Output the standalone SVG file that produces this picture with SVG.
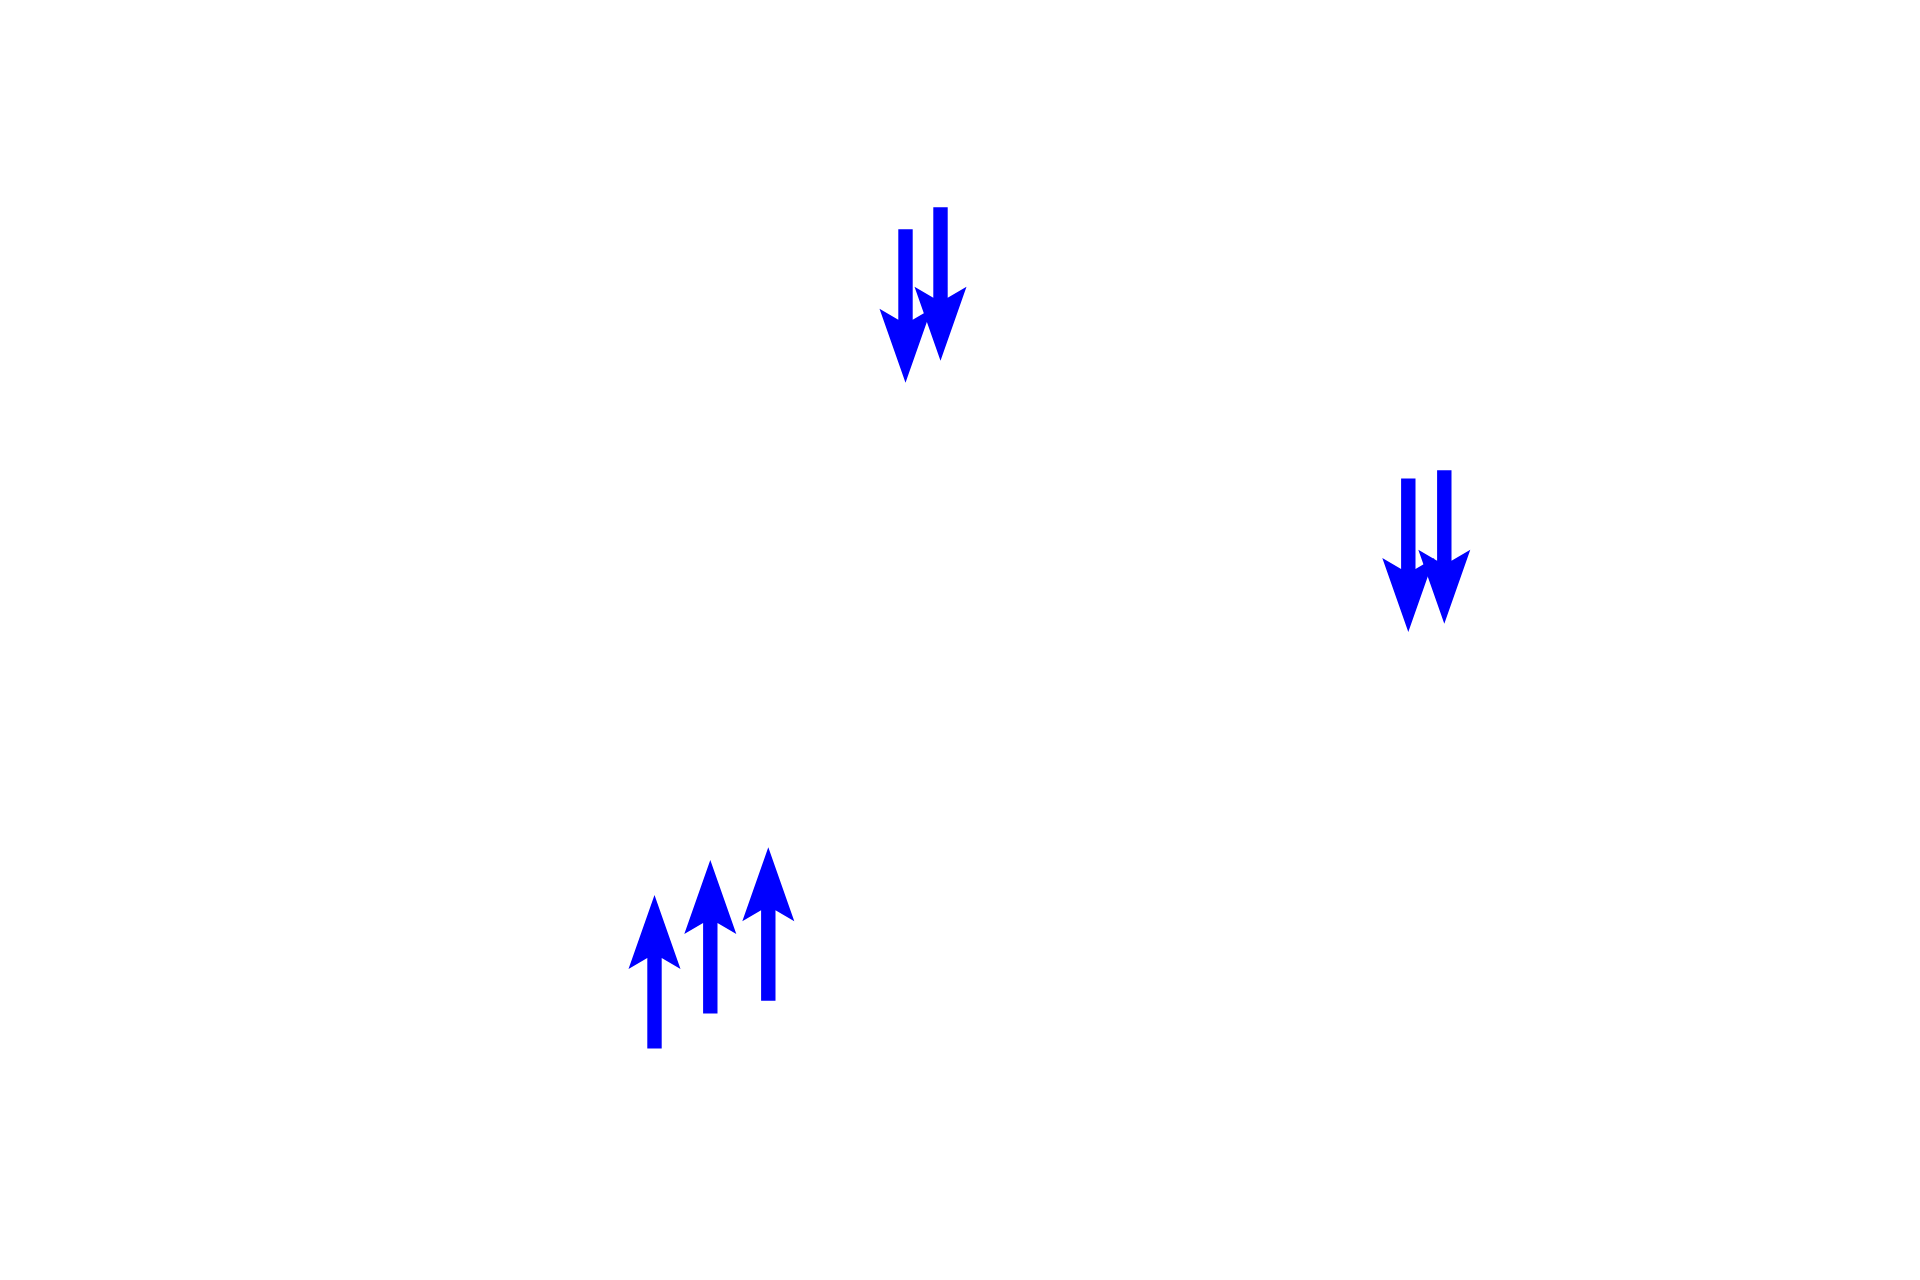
<svg xmlns="http://www.w3.org/2000/svg" xmlns:xlink="http://www.w3.org/1999/xlink" width="1920" height="1280" viewBox="0 0 1920 1280">
  <style>
    .arrow { fill: #0000ff; stroke: none; }
  </style>
  <defs>
    <path id="upArrow" class="arrow" d="M0,0 L26,74 L7.2,63 L7.2,153.4 L-7.2,153.4 L-7.2,63 L-26,74 Z"/>
  </defs>
  <rect x="0" y="0" width="1920" height="1280" fill="#ffffff"/>
  <g id="connectors">
    <use xlink:href="#upArrow" href="#upArrow" transform="translate(905.5,382.7) rotate(180)"/>
    <use xlink:href="#upArrow" href="#upArrow" transform="translate(940.5,360.7) rotate(180)"/>
    <use xlink:href="#upArrow" href="#upArrow" transform="translate(1408.3,632) rotate(180)"/>
    <use xlink:href="#upArrow" href="#upArrow" transform="translate(1444.3,623.7) rotate(180)"/>
    <use xlink:href="#upArrow" href="#upArrow" transform="translate(654.5,895)"/>
    <use xlink:href="#upArrow" href="#upArrow" transform="translate(710.3,860)"/>
    <use xlink:href="#upArrow" href="#upArrow" transform="translate(768.3,847.3)"/>
  </g>
</svg>
